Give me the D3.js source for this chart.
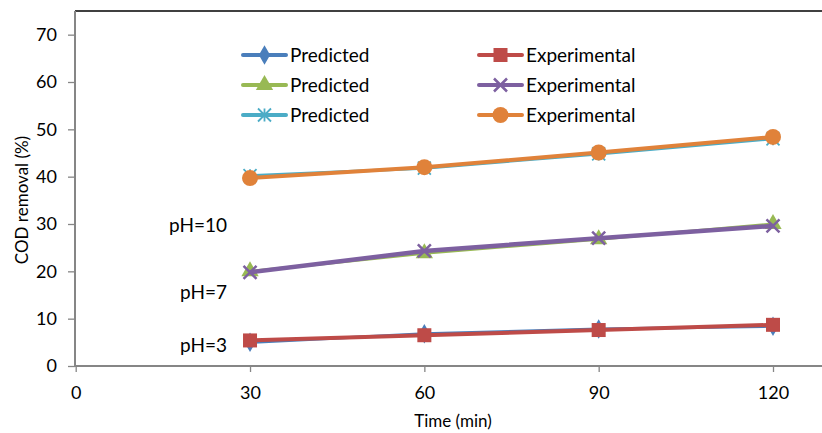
<!DOCTYPE html>
<html><head><meta charset="utf-8">
<script src="https://cdn.jsdelivr.net/npm/d3@7"></script>
<style>body{margin:0;background:#fff}svg{display:block;font-family:Lato,"Open Sans",sans-serif}</style>
</head><body><svg id="c" width="822" height="433"></svg>
<script>
const times = [30, 60, 90, 120];
const xTicks = [0, 30, 60, 90, 120];
const yTicks = [0, 10, 20, 30, 40, 50, 60, 70];
const seriesNames = ["Predicted", "Experimental", "Predicted", "Experimental", "Predicted", "Experimental"];
const predPH3 = [5.0, 6.8, 7.8, 8.4];
const expPH3 = [5.4, 6.5, 7.6, 8.7];
const predPH7 = [20.0, 23.8, 26.8, 30.0];
const expPH7 = [19.8, 24.3, 27.0, 29.6];
const predPH10 = [40.2, 41.8, 44.8, 48.0];
const expPH10 = [39.7, 42.0, 45.1, 48.4];
const phLabels = ["pH=10", "pH=7", "pH=3"];
const phLabelValues = [28.3, 14.2, 3.0];

const series = [
  {name: seriesNames[0], vals: predPH3, color: "#4a7ebb", marker: "diamond", w: 3},
  {name: seriesNames[1], vals: expPH3, color: "#be4b48", marker: "square", w: 4},
  {name: seriesNames[2], vals: predPH7, color: "#98b954", marker: "triangle", w: 3},
  {name: seriesNames[3], vals: expPH7, color: "#7d60a0", marker: "x", w: 4.5},
  {name: seriesNames[4], vals: predPH10, color: "#4bacc6", marker: "star", w: 3},
  {name: seriesNames[5], vals: expPH10, color: "#e0823a", marker: "circle", w: 4}
];

const svg = d3.select("#c");
const x = d3.scaleLinear().domain([0, 120]).range([75.7, 773]);
const y = d3.scaleLinear().domain([0, 75]).range([366, 11]);

// top border
svg.append("line").attr("x1", 75).attr("x2", 822).attr("y1", 11).attr("y2", 11).attr("stroke", "#000").attr("stroke-width", 1.5);

const yAx = svg.append("g").attr("transform", "translate(75,0)")
  .call(d3.axisLeft(y).tickValues(yTicks).tickSize(7).tickPadding(11).tickFormat(d3.format("d")));
const xAx = svg.append("g").attr("transform", "translate(0,366)")
  .call(d3.axisBottom(x).tickValues(xTicks).tickSize(6).tickPadding(14).tickFormat(d3.format("d")));
[yAx, xAx].forEach(g => {
  g.select(".domain").attr("stroke", "#868686").attr("stroke-width", 2);
  g.selectAll(".tick line").attr("stroke", "#868686").attr("stroke-width", 1.3);
  g.selectAll(".tick text").attr("fill", "#000").style("font-size", "18px").style("font-family", "Lato,'Open Sans',sans-serif");
});
xAx.select(".domain").attr("d", "M75,0H822");
yAx.select(".domain").attr("d", "M0,11V366");

svg.append("text").attr("transform", "translate(28,200) rotate(-90)").attr("text-anchor", "middle")
  .style("font-size", "17px").text("COD removal (%)");
svg.append("text").attr("x", 453).attr("y", 427).attr("text-anchor", "middle")
  .style("font-size", "17px").text("Time (min)");

function drawMarker(g, type, color, cx, cy, s) {
  s = s || 1;
  if (type === "diamond") {
    g.append("path").attr("d", d3.symbol(d3.symbolDiamond, 110 * s)()).attr("transform", `translate(${cx},${cy})`).attr("fill", color);
  } else if (type === "square") {
    g.append("rect").attr("x", cx - 7 * s).attr("y", cy - 7 * s).attr("width", 14 * s).attr("height", 14 * s).attr("fill", color);
  } else if (type === "triangle") {
    g.append("path").attr("d", d3.symbol(d3.symbolTriangle, 130 * s)()).attr("transform", `translate(${cx},${cy})`).attr("fill", color);
  } else if (type === "x") {
    const r = 6.5 * s;
    g.append("path").attr("d", `M${cx - r},${cy - r}L${cx + r},${cy + r}M${cx - r},${cy + r}L${cx + r},${cy - r}`).attr("stroke", color).attr("stroke-width", 2.5);
  } else if (type === "star") {
    const r = 6.5 * s;
    g.append("path").attr("d", `M${cx - r},${cy - r}L${cx + r},${cy + r}M${cx - r},${cy + r}L${cx + r},${cy - r}M${cx},${cy - r}L${cx},${cy + r}`).attr("stroke", color).attr("stroke-width", 1.8);
  } else if (type === "circle") {
    g.append("circle").attr("cx", cx).attr("cy", cy).attr("r", 8 * s).attr("fill", color);
  }
}

const line = d3.line().x((d, i) => x(times[i])).y(d => y(d));
series.forEach(s => {
  const g = svg.append("g");
  g.append("path").attr("d", line(s.vals)).attr("fill", "none").attr("stroke", s.color).attr("stroke-width", s.w).attr("stroke-linejoin", "round");
  s.vals.forEach((v, i) => drawMarker(g, s.marker, s.color, x(times[i]), y(v)));
});

// legend
const legX = [243, 479];
const legY = [55, 85, 115];
series.forEach((s, i) => {
  const col = i % 2, row = Math.floor(i / 2);
  const g = svg.append("g");
  const lx = legX[col], ly = legY[row];
  g.append("line").attr("x1", lx).attr("x2", lx + 43).attr("y1", ly).attr("y2", ly).attr("stroke", s.color).attr("stroke-width", 4).attr("stroke-linecap", "round");
  drawMarker(g, s.marker, s.color, lx + 21.5, ly);
  g.append("text").attr("x", lx + 47).attr("y", ly + 7).style("font-size", "19px").text(s.name);
});

phLabels.forEach((t, i) => {
  svg.append("text").attr("x", 227).attr("y", y(phLabelValues[i])).attr("text-anchor", "end").style("font-size", "19px").text(t);
});
</script></body></html>
